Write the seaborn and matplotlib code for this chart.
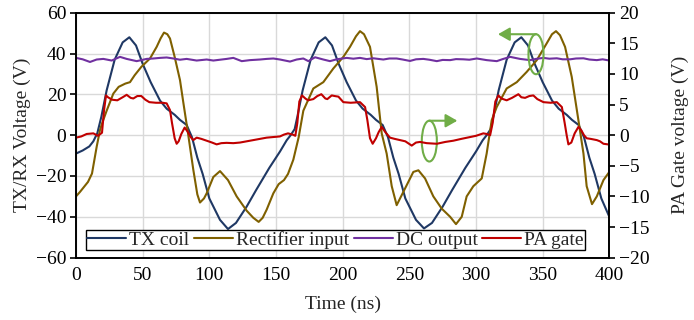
import matplotlib
matplotlib.use("Agg")
import matplotlib.pyplot as plt
from matplotlib.patches import Ellipse, FancyArrowPatch
import seaborn as sns

# ---------------- data ----------------
tx_t = [0, 5, 10, 13, 16, 19, 23, 29, 35, 40, 45, 50, 56, 63, 68, 74, 78, 83, 87, 91, 95, 100,
        108, 114, 120, 128, 135, 145, 153, 158, 161, 164, 166, 170, 176, 182, 187, 192, 197, 203,
        210, 215, 221, 225, 230, 234, 238, 242, 247, 255, 261, 267, 275, 282, 292, 300, 305, 308,
        311, 313, 317, 323, 329, 334, 339, 344, 350, 357, 362, 368, 372, 377, 381, 385, 389, 394, 400]
tx_v = [-9, -7.5, -5.5, -3, 1, 9, 22, 37, 45.5, 48, 44, 35, 26, 17, 13, 10, 7.5, 5, -1, -11, -19, -31,
        -41.5, -46, -43, -35, -27, -16, -8, -2.5, 0, 3, 9, 22, 37, 45.5, 48, 44, 35, 26,
        17, 13, 10, 7.5, 5, -1, -11, -19, -31, -41.5, -45.7, -43, -35, -27, -16, -8, -2.5, 0,
        3, 9, 22, 37, 45.5, 48, 44, 35, 26, 17, 13, 10, 7.5, 5, -1, -11, -19, -31, -40]

rect_t = [0, 3, 9, 12, 15.5, 18, 19.5, 23, 28, 32, 37, 40.5, 44, 49, 55.5, 60.5, 63.5, 66, 68.5, 70.5,
          74, 78, 80.5, 84, 88, 91, 93, 96, 98, 103, 108, 114, 120.5, 128, 133, 137, 140, 143,
          148, 152, 156, 159, 163, 167, 170.5, 178, 185.5, 193, 200.5, 205.5, 210, 213, 216, 220.5,
          225.5, 229.3, 233, 236.8, 240.5, 245.5, 253, 256.8, 261.8, 268, 274.3, 280.6, 285, 289.3,
          293, 298, 304.3, 308, 311.8, 315.6, 323, 330.6, 338, 345.6, 353, 357, 360, 363, 366.8,
          371.8, 376.8, 380.6, 383, 387, 390.6, 395.6, 400]
rect_v = [-30, -27.8, -22.9, -18.8, -5.7, 2.5, 5.7, 12, 20.4, 23.7, 25.3, 26, 29.4, 33.5, 37.6, 43.3, 47.5, 50.3, 49.5, 47.4,
          38.4, 27, 16, 1, -17, -29, -33, -31, -28.5, -20.5, -17.6, -22, -30, -37, -40.5, -42.5, -40.5, -36.5,
          -28.5, -24, -22, -19, -12, -1, 12, 22.9, 26, 32.7, 38.4, 43.3, 48.5, 51, 49.5, 43.3,
          23.7, 0.8, -9, -25, -34.3, -27.8, -18, -17.2, -21.2, -30, -36, -40, -43.6, -40,
          -30, -25, -21.2, -9, 7.4, 13.9, 22.9, 26, 31, 36.8, 45, 49.5, 51, 49, 43.3,
          28.6, 7.4, -9, -25, -33.8, -30, -22, -18]

dc_t = [0, 5, 10.5, 15.5, 20.5, 26.8, 33, 38, 45.5, 53, 58, 63, 68, 73, 78, 83, 90.5, 98, 103, 108,
        113, 118, 124.3, 130.5, 138, 143, 148, 153, 160.5, 165.5, 170.5, 174.3, 179.3, 185.5, 190.5,
        195.5, 203, 208, 213, 218, 223, 230.5, 235, 240.5, 245, 250.5, 255, 260.5, 265, 270.6, 275,
        280.6, 285, 290.5, 295, 300.6, 308, 315.6, 320, 325.6, 333, 340.6, 345, 350.6, 355, 360.6,
        365, 370.6, 375, 380.6, 385, 390.6, 395, 400]
dc_v = [37.9, 37.2, 35.9, 37.1, 37.4, 36.6, 38.4, 37.4, 36.3, 37.4, 37.6, 37.9, 38.1, 37.6, 37.0, 37.4, 36.6, 37.1, 36.6, 37.0,
        37.4, 37.9, 36.3, 36.8, 37.1, 37.4, 37.6, 37.1, 36.1, 37.1, 37.6, 36.3, 38.2, 37.1, 36.3,
        37.2, 37.9, 37.5, 37.9, 37.3, 37.7, 37.1, 37.6, 37.6, 37.1, 36.4, 37.2, 37.4, 37.0, 36.3, 36.9,
        36.8, 37.3, 37.2, 37.0, 37.6, 36.8, 36.3, 37.3, 38.4, 37.4, 36.8, 37.4, 37.9, 37.5, 37.7,
        37.2, 37.2, 37.6, 37.7, 37.1, 36.8, 37.2, 36.6]

pa_t = [0, 4, 8, 13, 16.5, 19.5, 21, 22.5, 24, 27, 31, 35, 38, 41, 43, 46, 49, 52, 55, 60, 65, 68,
        70.5, 72, 74, 75.5, 77, 79, 81.5, 84, 86, 88, 90.5, 94, 98, 102, 105.5, 109, 113, 118, 123,
        128, 133, 138, 143, 148, 153, 156, 159, 162.5, 164.5, 166, 167.5, 169.5, 172, 174, 178, 181,
        184, 187, 188.5, 191.8, 194, 196.8, 200.5, 206, 213, 216.8, 218.5, 220.5, 222.5, 225, 227,
        229.3, 232, 235.5, 239, 243, 247, 251.8, 255, 258, 263, 270.6, 277, 283, 289, 295.6, 300,
        305.5, 308, 310.6, 312.5, 314.5, 316.8, 319, 323, 327, 331.8, 334, 336.8, 340, 343, 346,
        350.6, 356, 360.6, 364.4, 366.5, 368, 369.3, 371.5, 374, 376.8, 379, 381, 383, 386, 390.6,
        393, 395.6, 399, 400]
pa_v = [-0.4, -0.2, 0.2, 0.3, -0.1, 0.4, 4, 6.5, 6.2, 5.8, 5.7, 6.2, 6.6, 6.1, 6.0, 6.4, 6.4, 5.8, 5.4, 5.3, 5.3, 5.2,
        4.1, 2, -0.5, -1.4, -1.0, 0.2, 1.25, 0.5, -0.3, -0.8, -0.4, -0.6, -0.9, -1.2, -1.5, -1.3, -1.25, -1.3, -1.2,
        -1.0, -0.8, -0.6, -0.4, -0.3, -0.2, 0.1, 0.3, 0.1, -0.1, 2, 5.5, 6.5, 6.0, 5.7, 5.9, 6.4,
        6.7, 6.0, 5.9, 6.5, 6.4, 6.3, 5.4, 5.3, 5.4, 4.6, 2.5, -0.5, -1.4, -0.5, 0.5,
        1.35, 0.5, -0.4, -0.6, -0.8, -1.0, -1.7, -1.2, -1.1, -1.3, -1.4, -1.1, -0.9, -0.6, -0.3, -0.1,
        0.3, 0.2, 0.0, 2, 5.5, 6.5, 6.0, 5.7, 6.1, 6.7, 6.2, 6.1, 6.4, 6.5, 5.9,
        5.4, 5.3, 5.4, 4.6, 2.0, 0, -1.5, -1.2, 0.3, 1.35, 0.8, 0, -0.5, -0.6, -0.8,
        -1.0, -1.4, -1.5, -1.6]

x_ticks = [0, 50, 100, 150, 200, 250, 300, 350, 400]
left_ticks = [-60, -40, -20, 0, 20, 40, 60]
right_ticks = [-20, -15, -10, -5, 0, 5, 10, 15, 20]

c_tx = "#1F3864"
c_rect = "#7F6000"
c_dc = "#7030A0"
c_pa = "#C00000"
c_green = "#70AD47"

# ---------------- style ----------------
sns.set_style("ticks")
plt.rcParams["font.family"] = ["Liberation Serif", "DejaVu Serif"]
plt.rcParams["font.size"] = 14
plt.rcParams["mathtext.fontset"] = "stix"

fig = plt.figure(figsize=(6.94, 3.2), dpi=100)
ax = fig.add_axes([0.1095, 0.195, 0.7685, 0.765])
ax2 = ax.twinx()

lw = 1.5
sns.lineplot(x=tx_t, y=tx_v, ax=ax, color=c_tx, linewidth=lw, label="TX coil", legend=False)
sns.lineplot(x=rect_t, y=rect_v, ax=ax, color=c_rect, linewidth=lw, label="Rectifier input", legend=False)
sns.lineplot(x=dc_t, y=dc_v, ax=ax, color=c_dc, linewidth=lw, label="DC output", legend=False)
sns.lineplot(x=pa_t, y=pa_v, ax=ax2, color=c_pa, linewidth=lw, label="PA gate", legend=False)

ax.set_xlim(0, 400)
ax.set_ylim(-60, 60)
ax2.set_ylim(-20, 20)
ax.set_xticks(x_ticks)
ax.set_yticks(left_ticks)
ax2.set_yticks(right_ticks)
ax.grid(True, color="#D9D9D9", linewidth=1.0)
ax.set_axisbelow(True)
ax2.grid(False)

for a in (ax, ax2):
    for s in a.spines.values():
        s.set_color("black")
        s.set_linewidth(1.2)
ax.tick_params(axis="x", length=0, pad=7, colors="black")
ax.tick_params(axis="y", length=4, width=1.2, direction="out", colors="black", pad=3)
ax2.tick_params(axis="y", length=4, width=1.2, direction="out", colors="black", pad=3)

ax.set_xlabel("Time (ns)", labelpad=8)
ax.set_ylabel("TX/RX Voltage (V)", labelpad=3)
ax2.set_ylabel("PA Gate voltage (V)", labelpad=16)

# green annotations (in left-axis data coordinates)
e1 = Ellipse((265, -2.9), 11.3, 20, fill=False, edgecolor=c_green, linewidth=1.5, transform=ax.transData)
e2 = Ellipse((345, 39.7), 11.3, 19.6, fill=False, edgecolor=c_green, linewidth=1.5, transform=ax.transData)
ax2.add_patch(e1)
ax2.add_patch(e2)
a1 = FancyArrowPatch((265, 7.1), (286, 7.1), arrowstyle="-|>,head_length=7,head_width=4",
                     color=c_green, linewidth=1.5, transform=ax.transData, shrinkA=0, shrinkB=0)
a2 = FancyArrowPatch((345, 49.5), (316.5, 49.5), arrowstyle="-|>,head_length=7,head_width=4",
                     color=c_green, linewidth=1.5, transform=ax.transData, shrinkA=0, shrinkB=0)
ax2.add_patch(a1)
ax2.add_patch(a2)

h1, l1 = ax.get_legend_handles_labels()
h2, l2 = ax2.get_legend_handles_labels()
leg = ax2.legend(h1 + h2, l1 + l2, loc="lower left", bbox_to_anchor=(0.019, 0.031), ncol=4,
                 frameon=True, fancybox=False, framealpha=1, edgecolor="black",
                 handlelength=2.0, handletextpad=0.15, columnspacing=0.25,
                 borderpad=0.05, borderaxespad=0, fontsize=14)
leg.get_frame().set_linewidth(1.0)

fig.savefig("out.png", dpi=100)
